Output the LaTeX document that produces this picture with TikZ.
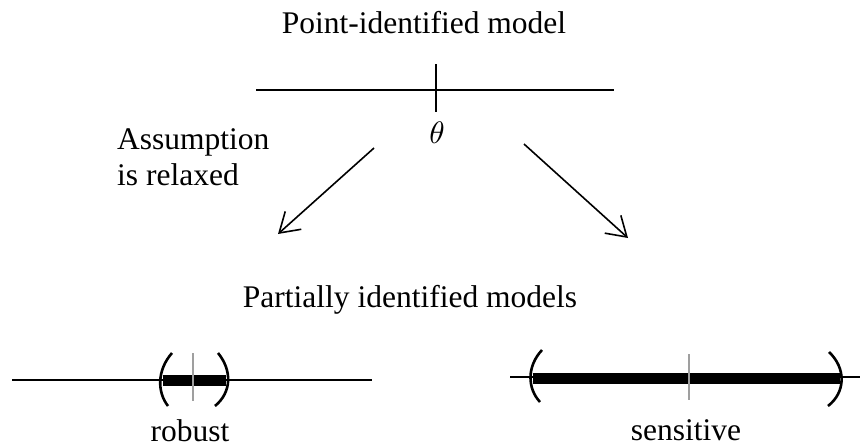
\documentclass[tikz,border=0pt]{standalone}
\usepackage{fontspec}
\setmainfont{Liberation Serif}
\usetikzlibrary{arrows.meta}
\begin{document}
\begin{tikzpicture}[x=1pt,y=-1pt,
  lbl/.style={inner sep=0pt,anchor=base,font=\fontsize{31.5}{36}\selectfont},
  axis/.style={line width=1.8pt},
  tick/.style={line width=2.6pt},
  gtick/.style={line width=1.8pt,gray!75},
  bar/.style={line width=11pt},
  paren/.style={line width=2.6pt,line cap=butt},
  arr/.style={line width=1.6pt,-{Straight Barb[length=19pt,width=24pt,line width=1.6pt]}}]
\useasboundingbox (0,0) rectangle (860,447);
% top
\node[lbl] (title) at (424,33) {Point-identified model};
\coordinate (tl) at (256,90);
\coordinate (tr) at (614,90);
\coordinate (tt) at (436,64);
\coordinate (tb) at (436,112);
\draw[axis] (tl) -- (tr);
\draw[tick] (tt) -- (tb);
\node[inner sep=0pt,anchor=base] (theta) at (437,143) {\scalebox{3.1}{$\theta$}};
\node[lbl,anchor=base west,align=left] (assume) at (117,185) {Assumption\\is relaxed};
% arrows
\coordinate (a1s) at (374,148);
\coordinate (a1e) at (278,234);
\coordinate (a2s) at (524,144);
\coordinate (a2e) at (628,238);
\draw[arr] (a1s) -- (a1e);
\draw[arr] (a2s) -- (a2e);
\node[lbl] (partial) at (410,307) {Partially identified models};
% bottom left: robust
\coordinate (ll) at (12,380);
\coordinate (lr) at (372,380);
\draw[axis] (ll) -- (lr);
\coordinate (lb1) at (163,380);
\coordinate (lb2) at (226,380);
\draw[bar] (lb1) -- (lb2);
\coordinate (lgt) at (193,353);
\coordinate (lgb) at (193,401);
\draw[gtick] (lgt) -- (lgb);
\draw[paren] (172,353) .. controls (157,370) and (157,392) .. (168,406);
\draw[paren] (218,353) .. controls (232,370) and (232,392) .. (215,406);
\node[lbl] (robust) at (190,441) {robust};
% bottom right: sensitive
\coordinate (rl) at (510,377);
\coordinate (rr) at (860,377);
\draw[axis] (rl) -- (rr);
\coordinate (rb1) at (533,378);
\coordinate (rb2) at (840,378);
\draw[bar] (rb1) -- (rb2);
\coordinate (rgt) at (689,354);
\coordinate (rgb) at (689,400);
\draw[gtick] (rgt) -- (rgb);
\draw[paren] (542,350) .. controls (527,366) and (527,388) .. (540,402);
\draw[paren] (829,352) .. controls (846,368) and (846,392) .. (828,406);
\node[lbl] (sensitive) at (686,440) {sensitive};
\end{tikzpicture}
\end{document}
